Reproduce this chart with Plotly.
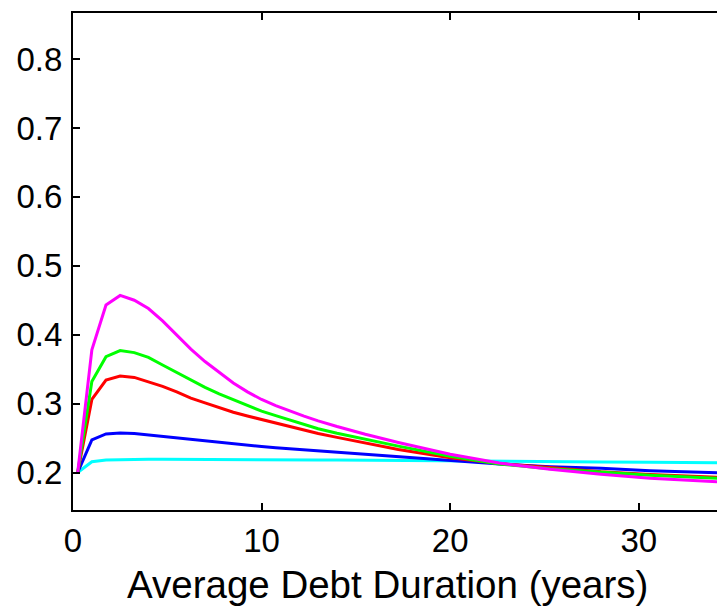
import plotly.graph_objects as go

duration = [0.25, 1.0, 1.75, 2.5, 3.25, 4.0, 4.75, 5.5, 6.25, 7.0, 7.75, 8.5, 9.25,
            10.0, 10.75, 11.5, 12.25, 13.0, 14.0, 15.5, 17.25, 20.0, 22.6, 25.3,
            28.0, 30.6, 34.2]

magenta_vals = [0.200, 0.378, 0.443, 0.457, 0.450, 0.438, 0.420, 0.399, 0.379, 0.361,
                0.345, 0.330, 0.317, 0.306, 0.2972, 0.2892, 0.2818, 0.2750, 0.2667,
                0.2555, 0.2436, 0.2265, 0.2137, 0.2046, 0.1974, 0.1916, 0.1867]
green_vals = [0.200, 0.332, 0.368, 0.377, 0.374, 0.367, 0.356, 0.345, 0.334, 0.3235,
              0.314, 0.306, 0.297, 0.289, 0.2825, 0.2760, 0.2700, 0.2635, 0.2570,
              0.2482, 0.2383, 0.2237, 0.2125, 0.2055, 0.2003, 0.1962, 0.1916]
red_vals = [0.200, 0.306, 0.334, 0.340, 0.338, 0.332, 0.325, 0.317, 0.308, 0.301,
            0.294, 0.2875, 0.282, 0.277, 0.272, 0.2665, 0.2615, 0.2565, 0.2510, 0.2425,
            0.2335, 0.2215, 0.2130, 0.2072, 0.2012, 0.1972, 0.1930]
blue_vals = [0.200, 0.2472, 0.2559, 0.2573, 0.2567, 0.2545, 0.2522, 0.2500, 0.2480,
             0.2460, 0.2435, 0.2412, 0.2395, 0.2378, 0.2360, 0.2345, 0.2330, 0.2310,
             0.2295, 0.2266, 0.2225, 0.2167, 0.2123, 0.2084, 0.2061, 0.2026, 0.1997]
cyan_vals = [0.200, 0.2157, 0.2181, 0.2188, 0.2190, 0.2191, 0.2191, 0.2191, 0.2191,
             0.2191, 0.2190, 0.2190, 0.2189, 0.2188, 0.2187, 0.2186, 0.2185, 0.2183,
             0.2180, 0.2176, 0.2172, 0.2167, 0.2162, 0.2157, 0.2153, 0.2148, 0.2143]

x_ticks = [0, 10, 20, 30]
y_ticks = [0.2, 0.3, 0.4, 0.5, 0.6, 0.7, 0.8]
y_tick_labels = ["0.2", "0.3", "0.4", "0.5", "0.6", "0.7", "0.8"]
x_title = "Average Debt Duration (years)"

series = [
    ("cyan", cyan_vals, "#00ffff"),
    ("blue", blue_vals, "#0000ff"),
    ("red", red_vals, "#ff0000"),
    ("green", green_vals, "#00ff00"),
    ("magenta", magenta_vals, "#ff00ff"),
]

fig = go.Figure()
for name, vals, color in series:
    fig.add_trace(go.Scatter(x=duration, y=vals, mode="lines", name=name,
                             line=dict(color=color, width=3)))

font_family = "Liberation Sans, Arial, sans-serif"

fig.update_layout(
    width=717, height=606,
    margin=dict(l=73, r=0, t=13, b=96),
    paper_bgcolor="white", plot_bgcolor="white",
    showlegend=False,
    font=dict(family=font_family, color="black", size=33),
)
fig.update_xaxes(
    range=[0, 34.15], tickvals=x_ticks, ticktext=[str(v) for v in x_ticks],
    ticks="inside", ticklen=7, tickwidth=1.5, tickcolor="black",
    showline=True, linecolor="black", linewidth=2, mirror="ticks",
    showgrid=False, zeroline=False,
    tickfont=dict(size=33, family=font_family),
)
fig.update_yaxes(
    range=[0.1456, 0.8668], tickvals=y_ticks, ticktext=y_tick_labels,
    ticks="inside", ticklen=7, tickwidth=1.5, tickcolor="black",
    showline=True, linecolor="black", linewidth=2, mirror=False,
    showgrid=False, zeroline=False,
    tickfont=dict(size=33, family=font_family),
    ticklabelstandoff=2,
)
fig.add_annotation(
    text=x_title, xref="paper", yref="paper", x=0.4876, y=-0.1026,
    xanchor="center", yanchor="top", showarrow=False,
    font=dict(size=38.5, family=font_family, color="black"),
)

fig.write_html("out.html")
